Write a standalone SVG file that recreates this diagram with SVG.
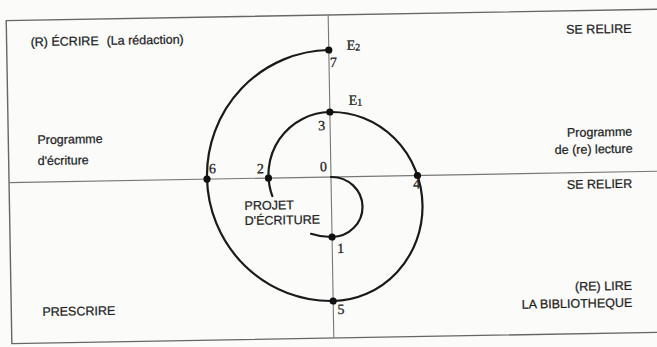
<svg xmlns="http://www.w3.org/2000/svg" width="657" height="347" viewBox="0 0 657 347">
  <style>
    .frame { fill: none; stroke: #666; stroke-width: 1.4; }
    .axis { fill: none; stroke: #777; stroke-width: 1.1; }
    .spiral { fill: none; stroke: #1a1a1a; stroke-width: 2.2; stroke-linecap: round; }
    .dot { fill: #111; }
    .lbl { font-family: "Liberation Sans", Arial, sans-serif; font-size: 12.5px; fill: #1e1e1e; stroke: #1e1e1e; stroke-width: 0.25; }
    .num { font-family: "Liberation Serif", "Times New Roman", serif; font-size: 14px; fill: #1e1e1e; stroke: #1e1e1e; stroke-width: 0.3; }
    .end { text-anchor: end; }
  </style>
  <rect x="0" y="0" width="657" height="347" fill="#fbfbfa"/>
  <g transform="rotate(-1 331 177)">
    <g id="frame">
      <rect class="frame" x="9" y="15" width="700" height="323"/>
      <line class="axis" x1="331" y1="15" x2="331" y2="338"/>
      <line class="axis" x1="9" y1="177" x2="709" y2="177"/>
    </g>
    <g id="connectors">
      <path class="spiral" d="M331,177 A31,30 0 0 1 331,237 A62.5,62.5 0 0 1 310,233.4"/>
      <path class="spiral" d="M272,195 A62.5,62.5 0 0 1 331,112 A91,94.5 0 0 1 331,301 A124,125.5 0 0 1 331,50"/>
    </g>
    <g id="quadrant-ecrire">
      <text class="lbl" x="33" y="41">(R) ÉCRIRE</text>
      <text class="lbl" x="109" y="41">(La rédaction)</text>
    </g>
    <g id="quadrant-relire">
      <text class="lbl end" x="634" y="38">SE RELIRE</text>
    </g>
    <g id="programme-ecriture">
      <text class="lbl" x="38" y="139">Programme</text>
      <text class="lbl" x="38" y="160">d'écriture</text>
    </g>
    <g id="programme-lecture">
      <text class="lbl end" x="633" y="141">Programme</text>
      <text class="lbl end" x="633" y="158">de (re) lecture</text>
    </g>
    <g id="quadrant-relier">
      <text class="lbl end" x="632" y="193">SE RELIER</text>
    </g>
    <g id="quadrant-lire">
      <text class="lbl end" x="630" y="295">(RE) LIRE</text>
      <text class="lbl end" x="630" y="312">LA BIBLIOTHEQUE</text>
    </g>
    <g id="quadrant-prescrire">
      <text class="lbl" x="40" y="311">PRESCRIRE</text>
    </g>
    <g id="projet">
      <text class="lbl" x="244" y="208.5">PROJET</text>
      <text class="lbl" x="244" y="223.5">D'ÉCRITURE</text>
    </g>
    <g id="p0"><text class="num" x="320" y="171">0</text></g>
    <g id="p1"><circle class="dot" cx="331" cy="237" r="3.6"/><text class="num" x="336" y="253">1</text></g>
    <g id="p2"><circle class="dot" cx="268.5" cy="177" r="3.6"/><text class="num" x="257" y="172">2</text></g>
    <g id="p3"><circle class="dot" cx="331" cy="112" r="3.6"/><text class="num" x="319" y="130">3</text><text class="num" x="350" y="105">E<tspan font-size="10" dy="1">1</tspan></text></g>
    <g id="p4"><circle class="dot" cx="417.5" cy="177" r="3.6"/><text class="num" x="413" y="190">4</text></g>
    <g id="p5"><circle class="dot" cx="331" cy="301" r="3.6"/><text class="num" x="335" y="314">5</text></g>
    <g id="p6"><circle class="dot" cx="207" cy="177" r="3.6"/><text class="num" x="209" y="171">6</text></g>
    <g id="p7"><circle class="dot" cx="331" cy="50" r="3.6"/><text class="num" x="332" y="67">7</text><text class="num" x="349" y="50">E<tspan font-size="10" dy="1">2</tspan></text></g>
  </g>
</svg>
